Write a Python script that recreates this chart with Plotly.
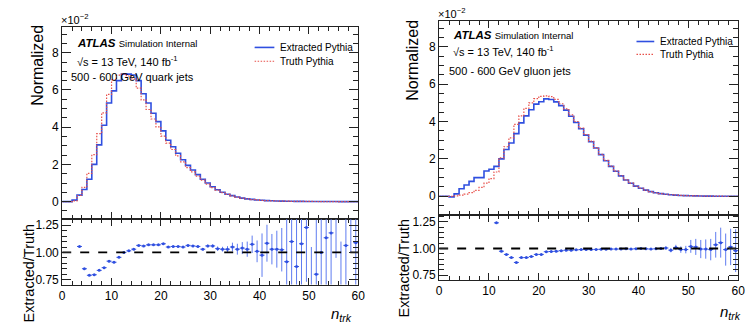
import plotly.graph_objects as go

W, H = 755, 328

# ---------------- data (units of 1e-2, bins of width 1 from 0 to 60) ----------------
bin_edges = list(range(0, 61))

quark_extracted = [0, 0, 0.08, 0.35, 0.65, 1.2, 2.0, 3.05, 4.1, 5.3,
                   5.95, 6.5, 6.85, 6.85, 6.8, 6.5, 5.8, 5.3, 4.75, 4.3,
                   3.8, 3.3, 2.95, 2.6, 2.25, 1.95, 1.7, 1.45, 1.2, 1.0,
                   0.8, 0.64, 0.5, 0.4, 0.32, 0.25, 0.19, 0.15, 0.12, 0.09,
                   0.07, 0.055, 0.045, 0.035, 0.028, 0.022, 0.018, 0.014, 0.012, 0.01,
                   0.008, 0.006, 0.005, 0.004, 0.0035, 0.003, 0.0025, 0.002, 0.0015, 0.0012]
quark_truth = [0, 0, 0.04, 0.33, 0.77, 1.52, 2.52, 3.65, 4.77, 5.76,
               6.54, 6.8, 6.85, 6.75, 6.6, 6.1, 5.47, 4.95, 4.44, 4.02,
               3.52, 3.14, 2.8, 2.46, 2.14, 1.83, 1.6, 1.37, 1.16, 0.94,
               0.75, 0.62, 0.485, 0.39, 0.305, 0.243, 0.183, 0.146, 0.112, 0.089,
               0.072, 0.051, 0.044, 0.034, 0.027, 0.024, 0.016, 0.016, 0.011, 0.008,
               0.01, 0.0075, 0.005, 0.0035, 0.003, 0.003, 0.0025, 0.002, 0.0015, 0.0011]
quark_ratio = [None, None, None, 1.055, 0.85, 0.79, 0.795, 0.835, 0.86, 0.92,
               0.91, 0.955, 1.0, 1.015, 1.03, 1.065, 1.06, 1.07, 1.07, 1.07,
               1.08, 1.05, 1.055, 1.055, 1.05, 1.065, 1.06, 1.055, 1.03, 1.06,
               1.06, 1.035, 1.03, 1.03, 1.05, 1.03, 1.04, 1.03, 1.075, 1.01,
               0.975, 1.085, 1.03, 1.03, 1.025, 0.915, 1.10, 0.87, 1.08, 1.23,
               0.55, 0.80, 1.0, 1.135, 1.18, 1.45, 0.6, 1.065, 1.5, 1.09]
quark_ratio_err = [0, 0, 0, 0.006, 0.005, 0.004, 0.003, 0.003, 0.003, 0.003,
                   0.003, 0.003, 0.003, 0.003, 0.003, 0.003, 0.003, 0.004, 0.004, 0.004,
                   0.005, 0.005, 0.006, 0.006, 0.007, 0.008, 0.009, 0.01, 0.011, 0.013,
                   0.015, 0.02, 0.022, 0.028, 0.04, 0.05, 0.055, 0.07, 0.08, 0.1,
                   0.2, 0.17, 0.14, 0.17, 0.2, 0.4, 0.45, 0.45, 0.45, 0.5,
                   0.5, 0.5, 0.5, 0.5, 0.5, 0.5, 0.5, 0.5, 0.5, 0.5]

gluon_extracted = [0, 0, -0.03, 0.13, 0.4, 0.6, 0.8, 1.0, 1.0, 1.35,
                   1.45, 1.6, 2.0, 2.5, 2.85, 3.35, 3.93, 4.3, 4.63, 4.93,
                   5.06, 5.21, 5.18, 5.05, 4.85, 4.61, 4.28, 3.95, 3.61, 3.27,
                   2.92, 2.58, 2.23, 1.9, 1.6, 1.34, 1.09, 0.875, 0.695, 0.545,
                   0.43, 0.33, 0.25, 0.19, 0.145, 0.11, 0.082, 0.063, 0.046, 0.035,
                   0.027, 0.02, 0.015, 0.011, 0.008, 0.006, 0.0045, 0.0033, 0.0025, 0.0018]
gluon_truth = [0, 0, 0, 0.02, 0.06, 0.12, 0.2, 0.32, 0.48, 0.7,
               0.95, 1.3, 2.05, 2.65, 3.12, 3.85, 4.3, 4.7, 5.0, 5.22,
               5.35, 5.37, 5.33, 5.18, 4.95, 4.68, 4.35, 4.0, 3.65, 3.3,
               2.95, 2.6, 2.25, 1.92, 1.62, 1.35, 1.1, 0.88, 0.7, 0.55,
               0.43, 0.33, 0.25, 0.19, 0.145, 0.11, 0.083, 0.062, 0.047, 0.035,
               0.026, 0.02, 0.015, 0.011, 0.008, 0.006, 0.0045, 0.0033, 0.0025, 0.0018]
gluon_ratio = [None, None, None, None, None, None, None, None, None, None,
               None, 1.24, 0.975, 0.945, 0.915, 0.87, 0.915, 0.915, 0.925, 0.945,
               0.945, 0.97, 0.972, 0.975, 0.98, 0.985, 0.985, 0.988, 0.99, 0.99,
               0.99, 0.992, 0.993, 0.994, 0.995, 0.995, 0.996, 0.997, 0.995, 0.998,
               1.0, 0.997, 0.995, 0.998, 1.0, 1.005, 0.985, 1.01, 0.99, 0.99,
               1.02, 1.015, 0.995, 0.995, 0.99, 1.035, 1.055, 0.99, 1.015, 0.98]
gluon_ratio_err = [0, 0, 0, 0, 0, 0, 0, 0, 0, 0,
                   0, 0.01, 0.004, 0.003, 0.003, 0.003, 0.002, 0.002, 0.002, 0.002,
                   0.002, 0.002, 0.002, 0.002, 0.002, 0.002, 0.002, 0.002, 0.002, 0.002,
                   0.002, 0.002, 0.003, 0.003, 0.003, 0.004, 0.004, 0.005, 0.005, 0.006,
                   0.007, 0.008, 0.009, 0.01, 0.012, 0.015, 0.02, 0.025, 0.03, 0.035,
                   0.06, 0.075, 0.085, 0.09, 0.1, 0.12, 0.14, 0.15, 0.17, 0.2]

x_ticks = [0, 10, 20, 30, 40, 50, 60]
main_ticks = [0, 2, 4, 6, 8]
ratio_ticks = [0.75, 1.00, 1.25]
legend_labels = ["Extracted Pythia", "Truth Pythia"]

# ---------------- style ----------------
BLUE = "#2f4fe0"
RED = "#e8504a"
ERR_BLUE = "#5f7cf0"
SANS = "Liberation Sans, Arial, sans-serif"
RED_DASH = "1.5px,1.5px"

def px_x(p):
    return p / W

def px_y(p):
    return 1 - p / H

fig = go.Figure()

panels = [
    dict(ext=quark_extracted, tru=quark_truth, rat=quark_ratio, err=quark_ratio_err,
         xd=[60, 360], main=[26, 221], ratio=[221, 287], mainrange=[-0.95, 9.4],
         ratrange=[0.705, 1.305], leg=dict(x0=255, x1=275, tx=279, y=(47, 61)),
         label="quark", texts=dict(
             exp=(57, 18), atlas=(73, 43), sqrt=(73, 61), jets=(67, 77),
             norm=(35, 65), ratlab=(26, 223), ntrk=(330, 317))),
    dict(ext=gluon_extracted, tru=gluon_truth, rat=gluon_ratio, err=gluon_ratio_err,
         xd=[442, 745], main=[20, 217], ratio=[217, 282], mainrange=[-1.02, 9.39],
         ratrange=[0.71, 1.31], leg=dict(x0=642, x1=660, tx=664, y=(41, 54)),
         label="gluon", texts=dict(
             exp=(439, 12), atlas=(454, 34), sqrt=(454, 51), jets=(450, 71),
             norm=(415, 60), ratlab=(406, 218), ntrk=(725, 315))),
]

axis_common = dict(showgrid=False, zeroline=False, showline=True, linecolor="#222",
                   linewidth=1, mirror="allticks", ticks="inside", tickcolor="#222",
                   tickfont=dict(family=SANS, size=12, color="black"))

annotations = []
shapes = []
for i, p in enumerate(panels):
    xa_main = "x" if i == 0 else f"x{2*i+1}"
    ya_main = "y" if i == 0 else f"y{2*i+1}"
    xa_rat = f"x{2*i+2}"
    ya_rat = f"y{2*i+2}"
    centers = [e + 0.5 for e in bin_edges[:-1]]
    fig.add_trace(go.Scatter(x=bin_edges, y=p["ext"] + [p["ext"][-1]], mode="lines",
                             line=dict(color=BLUE, width=1.6, shape="hv"),
                             name=legend_labels[0], xaxis=xa_main, yaxis=ya_main,
                             showlegend=False))
    fig.add_trace(go.Scatter(x=bin_edges, y=p["tru"] + [p["tru"][-1]], mode="lines",
                             line=dict(color=RED, width=1.2, shape="hv", dash=RED_DASH),
                             name=legend_labels[1], xaxis=xa_main, yaxis=ya_main,
                             showlegend=False))
    fig.add_trace(go.Scatter(x=centers, y=p["rat"], mode="markers",
                             marker=dict(color=BLUE, size=3),
                             error_x=dict(type="constant", value=0.5, color=BLUE,
                                          thickness=1, width=0),
                             error_y=dict(type="data", array=p["err"], color=ERR_BLUE,
                                          thickness=1, width=0),
                             showlegend=False, xaxis=xa_rat, yaxis=ya_rat))
    fig.add_trace(go.Scatter(x=[0, 60], y=[1, 1], mode="lines",
                             line=dict(color="black", width=1.8, dash="dash"),
                             showlegend=False, hoverinfo="skip",
                             xaxis=xa_rat, yaxis=ya_rat))

    xd = [px_x(p["xd"][0]), px_x(p["xd"][1])]
    key_xm = "xaxis" if i == 0 else f"xaxis{2*i+1}"
    key_ym = "yaxis" if i == 0 else f"yaxis{2*i+1}"
    key_xr = f"xaxis{2*i+2}"
    key_yr = f"yaxis{2*i+2}"
    fig.update_layout(**{
        key_xm: dict(axis_common, domain=xd, range=[0, 60], tickvals=x_ticks,
                     showticklabels=False, anchor=ya_main, ticklen=7,
                     minor=dict(dtick=2, ticklen=4, ticks="inside", tickcolor="#222")),
        key_ym: dict(axis_common, domain=[px_y(p["main"][1]), px_y(p["main"][0])],
                     range=p["mainrange"], tickvals=main_ticks, anchor=xa_main,
                     ticklen=9,
                     minor=dict(dtick=0.5, ticklen=5, ticks="inside", tickcolor="#222")),
        key_xr: dict(axis_common, domain=xd, range=[0, 60], tickvals=x_ticks,
                     anchor=ya_rat, ticklen=7,
                     minor=dict(dtick=2, ticklen=4, ticks="inside", tickcolor="#222")),
        key_yr: dict(axis_common, domain=[px_y(p["ratio"][1]), px_y(p["ratio"][0])],
                     range=p["ratrange"], tickvals=ratio_ticks, tickformat=".2f",
                     anchor=xa_rat, ticklen=9,
                     minor=dict(dtick=0.05, ticklen=5, ticks="inside", tickcolor="#222")),
    })

    t = p["texts"]
    annotations += [
        dict(text="×10<sup>−2</sup>", x=px_x(t["exp"][0]), y=px_y(t["exp"][1]),
             xanchor="left", yanchor="middle", font=dict(family=SANS, size=11)),
        dict(text="<b><i>ATLAS</i></b> <span style='font-size:9.5px'>Simulation Internal</span>",
             x=px_x(t["atlas"][0]), y=px_y(t["atlas"][1]), xanchor="left",
             yanchor="middle", font=dict(family=SANS, size=11.5)),
        dict(text="√s = 13 TeV, 140 fb<sup>-1</sup>", x=px_x(t["sqrt"][0]),
             y=px_y(t["sqrt"][1]), xanchor="left", yanchor="middle",
             font=dict(family=SANS, size=11)),
        dict(text=f"500 - 600 GeV {p['label']} jets", x=px_x(t["jets"][0]),
             y=px_y(t["jets"][1]), xanchor="left", yanchor="middle",
             font=dict(family=SANS, size=11)),
        dict(text="Normalized", textangle=-90, x=px_x(t["norm"][0]), y=px_y(t["norm"][1]),
             xanchor="center", yanchor="middle", font=dict(family=SANS, size=16)),
        dict(text="Extracted/Truth", textangle=-90, x=px_x(t["ratlab"][0]),
             y=px_y(t["ratlab"][1]), xanchor="center", yanchor="top",
             font=dict(family=SANS, size=14.5)),
        dict(text="<i>n</i><sub><i>trk</i></sub>", x=px_x(t["ntrk"][0]),
             y=px_y(t["ntrk"][1]), xanchor="left", yanchor="middle",
             font=dict(family=SANS, size=15)),
    ]
    # legend (sample lines + labels)
    lg = p["leg"]
    styles = [dict(color=BLUE, width=1.6), dict(color=RED, width=1.2, dash=RED_DASH)]
    for k, lab in enumerate(legend_labels):
        yy = px_y(lg["y"][k])
        shapes.append(dict(type="line", xref="paper", yref="paper",
                           x0=px_x(lg["x0"]), x1=px_x(lg["x1"]), y0=yy, y1=yy,
                           line=styles[k]))
        annotations.append(dict(text=lab, x=px_x(lg["tx"]), y=yy, xanchor="left",
                                yanchor="middle", font=dict(family=SANS, size=10)))

for a in annotations:
    a.update(xref="paper", yref="paper", showarrow=False)
    a["font"]["color"] = "black"

fig.update_layout(width=W, height=H, autosize=False,
                  margin=dict(l=0, r=0, t=0, b=0),
                  paper_bgcolor="white", plot_bgcolor="white",
                  annotations=annotations, shapes=shapes, showlegend=False)

fig.write_html("out.html", config={"displayModeBar": False},
               post_script="document.body.style.margin='0';")
